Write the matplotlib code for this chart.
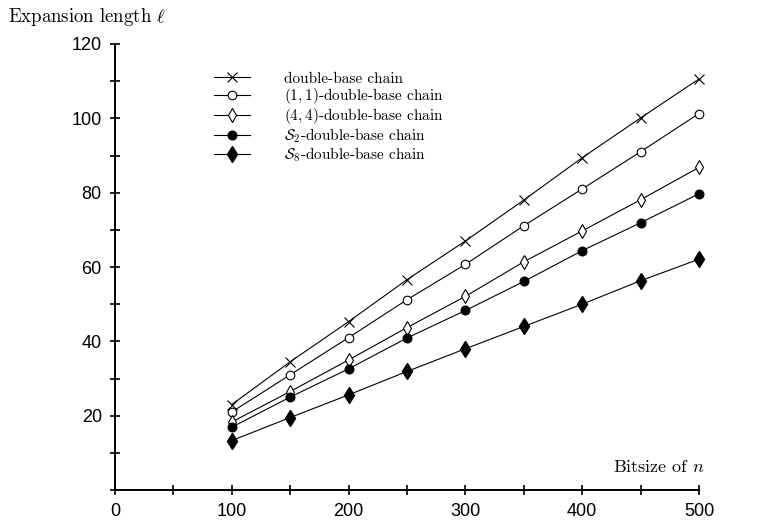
import matplotlib
matplotlib.use("Agg")
import matplotlib.pyplot as plt
from matplotlib.ticker import MultipleLocator

plt.rcParams['mathtext.fontset'] = 'cm'
plt.rcParams['axes.unicode_minus'] = False

bits = [100, 150, 200, 250, 300, 350, 400, 450, 500]
dbc = [23, 34.5, 45.3, 56.6, 67, 78, 89.4, 100.1, 110.6]
dbc11 = [21, 31, 41, 51.2, 60.7, 71.1, 81, 91, 101.3]
dbc44 = [18.3, 26.5, 35, 43.7, 52.1, 61.4, 69.7, 78.1, 86.8]
s2 = [16.9, 25, 32.6, 40.9, 48.3, 56.1, 64.4, 71.9, 79.7]
s8 = [13.3, 19.5, 25.6, 31.9, 38, 44, 50, 56.3, 62.1]

labels = ["double-base chain",
          "$(1,1)$-double-base chain",
          "$(4,4)$-double-base chain",
          r"$\mathcal{S}_2$-double-base chain",
          r"$\mathcal{S}_8$-double-base chain"]
yticks = [20, 40, 60, 80, 100, 120]

fig = plt.figure(figsize=(7.64, 5.27), dpi=100)
ax = fig.add_axes([115 / 764, 37 / 527, 584 / 764, 446 / 527])

kw = dict(color='black', linewidth=0.8, clip_on=False)
ax.plot(bits, dbc, marker='x', markersize=6.5, markeredgewidth=0.8, label=labels[0], **kw)
ax.plot(bits, dbc11, marker='o', markersize=6.2, markerfacecolor='white',
        markeredgewidth=0.8, label=labels[1], **kw)
ax.plot(bits, dbc44, marker='d', markersize=7.5, markerfacecolor='white',
        markeredgewidth=0.8, label=labels[2], **kw)
ax.plot(bits, s2, marker='o', markersize=6.2, markerfacecolor='black', label=labels[3], **kw)
ax.plot(bits, s8, marker='d', markersize=8, markerfacecolor='black', label=labels[4], **kw)

ax.set_xlim(0, 500)
ax.set_ylim(0, 120)
ax.spines['top'].set_visible(False)
ax.spines['right'].set_visible(False)
ax.spines['left'].set_linewidth(1.4)
ax.spines['bottom'].set_linewidth(1.4)
ax.xaxis.set_major_locator(MultipleLocator(100))
ax.xaxis.set_minor_locator(MultipleLocator(50))
ax.yaxis.set_minor_locator(MultipleLocator(10))
ax.set_yticks(yticks)
ax.set_yticklabels([str(v) for v in yticks])
ax.tick_params(which='both', direction='inout', width=1.2, length=7, labelsize=13,
               pad=6, labelfontfamily='Liberation Sans')

fig.text(8 / 764, 1 - 17 / 527, r"Expansion length $\ell$", family='cmr10',
         fontsize=13.5, va='center', ha='left')
fig.text(705 / 764, 1 - 467 / 527, r"Bitsize of $n$", family='cmr10',
         fontsize=13, va='center', ha='right')

ax.legend(loc='upper left', bbox_to_anchor=(214 / 764, 1 - 72 / 527),
          bbox_transform=fig.transFigure, frameon=False, borderpad=0,
          borderaxespad=0, handlelength=2.35, handletextpad=2.2,
          labelspacing=0.02, prop={'family': 'cmr10', 'size': 11})

fig.savefig("out.png", dpi=100)
